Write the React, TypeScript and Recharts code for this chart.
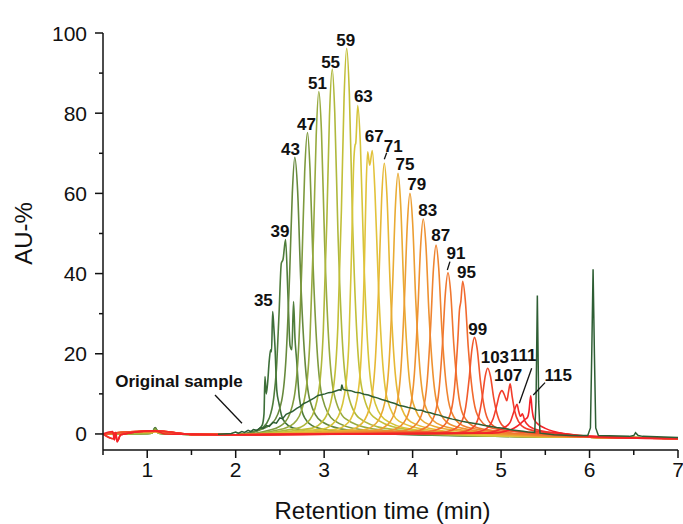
import React from 'react'
import { LineChart, Line, XAxis, YAxis, ReferenceLine, ReferenceDot } from 'recharts'

type Pt = [number, number]

// chromatograms of the collected fractions, [time (min), AU-%]
const p35: Pt[] = [[0.5,0],[1.05,0.2],[1.09,1.6],[1.13,0.2],[1.5,-0.1],[2.0,-0.2],[2.15,0.3],[2.25,1],[2.3,2.2],[2.32,5],[2.331,14.3],[2.345,10],[2.36,12.5],[2.38,18.4],[2.395,21],[2.405,20.5],[2.418,30.5],[2.43,27],[2.444,21.8],[2.464,11],[2.49,7.5],[2.52,4.5],[2.56,2.8],[2.65,1.5],[2.9,0.7],[3.5,0.1],[6,-0.8],[7,-1.1]]
const p39: Pt[] = [[0.5,0],[1.05,0.2],[1.09,1.5],[1.13,0.2],[1.5,-0.1],[2.0,-0.2],[2.2,0.5],[2.3,1.5],[2.38,4],[2.43,9],[2.46,16],[2.49,30],[2.516,42.6],[2.535,43.5],[2.564,48.5],[2.59,35],[2.615,22],[2.635,21],[2.654,33],[2.67,24],[2.689,18.4],[2.72,9],[2.78,4],[2.9,1.7],[3.2,0.6],[4.0,-0.2],[6,-0.8],[7,-1.1]]
const p43: Pt[] = [[0.5,0],[1.05,0.2],[1.09,1.4],[1.13,0.2],[1.5,-0.1],[2.0,-0.2],[2.27,1.0],[2.42,2.8],[2.52,8.3],[2.57,19.3],[2.61,40],[2.64,60],[2.668,69],[2.7,60.7],[2.735,38.6],[2.78,19.3],[2.84,8.3],[2.97,3.1],[3.27,1.0],[4.5,-0.4],[6,-0.8],[7,-1.1]]
const p47: Pt[] = [[0.5,0],[1.05,0.2],[1.09,1.2],[1.13,0.2],[1.5,-0.1],[2.0,-0.2],[2.41,1.1],[2.56,3.0],[2.66,9.0],[2.71,21],[2.75,43.6],[2.78,65.4],[2.812,75.2],[2.84,66.2],[2.875,42.1],[2.92,21],[2.98,9.0],[3.11,3.4],[3.41,1.1],[4.5,-0.4],[6,-0.8],[7,-1.1]]
const p51: Pt[] = [[0.5,0],[1.05,0.2],[1.09,1.0],[1.13,0.2],[1.5,-0.1],[2.0,-0.2],[2.54,1.3],[2.69,3.4],[2.79,10.2],[2.84,23.9],[2.88,49.5],[2.91,74.3],[2.94,85.4],[2.97,75.2],[3.005,47.8],[3.05,23.9],[3.11,10.2],[3.24,3.8],[3.54,1.3],[4.6,-0.4],[6,-0.8],[7,-1.1]]
const p55: Pt[] = [[0.5,0],[1.05,0.2],[1.09,0.9],[1.13,0.2],[1.5,-0.1],[2.0,-0.2],[2.69,1.4],[2.84,3.6],[2.94,10.9],[2.99,25.5],[3.03,52.8],[3.06,79.2],[3.092,91],[3.12,80.1],[3.155,51],[3.2,25.5],[3.26,10.9],[3.39,4.1],[3.69,1.4],[4.7,-0.4],[6,-0.8],[7,-1.1]]
const p59: Pt[] = [[0.5,0],[1.09,0.7],[1.5,-0.1],[2.0,-0.2],[2.855,1.4],[3.005,3.8],[3.105,11.5],[3.155,26.9],[3.195,55.8],[3.225,83.7],[3.255,96.2],[3.285,84.7],[3.32,53.9],[3.365,26.9],[3.425,11.5],[3.555,4.3],[3.855,1.4],[4.8,-0.4],[6,-0.8],[7,-1.1]]
const p63: Pt[] = [[0.5,0],[1.09,0.6],[1.5,-0.1],[2.0,-0.2],[2.98,1.2],[3.13,3.3],[3.23,9.8],[3.28,23],[3.31,46],[3.335,68],[3.349,72],[3.357,72.5],[3.38,81.9],[3.41,72],[3.445,46],[3.49,23],[3.55,9.8],[3.68,3.7],[3.98,1.2],[4.9,-0.4],[6,-0.8],[7,-1.1]]
const p67: Pt[] = [[0.5,0],[1.09,0.6],[1.5,-0.1],[2.0,-0.2],[3.12,1.1],[3.27,2.8],[3.37,8.5],[3.42,20],[3.455,42],[3.475,62],[3.492,70.4],[3.515,67],[3.544,70.7],[3.575,60],[3.61,39],[3.655,19.8],[3.715,8.5],[3.845,3.2],[4.145,1.1],[5.0,-0.4],[6,-0.8],[7,-1.1]]
const p71: Pt[] = [[0.5,0],[1.09,0.6],[1.5,-0.1],[2.0,-0.2],[3.28,1.0],[3.43,2.7],[3.53,8.1],[3.58,18.9],[3.62,39.2],[3.65,58.7],[3.68,67.5],[3.71,59.4],[3.745,37.8],[3.79,18.9],[3.85,8.1],[3.98,3.0],[4.28,1.0],[5.1,-0.4],[6,-0.8],[7,-1.1]]
const p75: Pt[] = [[0.5,0],[1.09,0.6],[1.5,-0.1],[2.0,-0.2],[3.435,1.0],[3.585,2.6],[3.685,7.8],[3.735,18.2],[3.775,37.7],[3.805,56.6],[3.835,65],[3.865,57.2],[3.9,36.4],[3.945,18.2],[4.005,7.8],[4.135,2.9],[4.435,1.0],[5.2,-0.4],[6,-0.8],[7,-1.1]]
const p79: Pt[] = [[0.5,0],[1.09,0.6],[1.5,-0.1],[2.0,-0.2],[3.57,0.9],[3.72,2.4],[3.82,7.2],[3.87,16.8],[3.91,34.8],[3.94,52.2],[3.97,60],[4.0,52.8],[4.035,33.6],[4.08,16.8],[4.14,7.2],[4.27,2.7],[4.57,0.9],[5.3,-0.4],[6,-0.8],[7,-1.1]]
const p83: Pt[] = [[0.5,0],[1.09,0.6],[1.5,-0.1],[2.0,-0.2],[3.72,0.8],[3.87,2.1],[3.97,6.4],[4.02,15],[4.06,31.1],[4.09,46.6],[4.12,53.6],[4.15,47.2],[4.185,30],[4.23,15],[4.29,6.4],[4.42,2.4],[4.72,0.8],[5.4,-0.4],[6,-0.8],[7,-1.1]]
const p87: Pt[] = [[0.5,0],[1.09,0.6],[1.5,-0.1],[2.0,-0.2],[3.865,0.7],[4.015,1.9],[4.115,5.7],[4.165,13.2],[4.205,27.3],[4.235,41],[4.265,47.1],[4.295,41.4],[4.33,26.4],[4.375,13.2],[4.435,5.7],[4.565,2.1],[4.865,0.7],[5.5,-0.4],[6,-0.8],[7,-1.1]]
const p91: Pt[] = [[0.5,0],[1.09,0.7],[1.5,-0.1],[2.0,-0.2],[4.0,0.6],[4.15,1.6],[4.25,4.8],[4.3,11.3],[4.34,23.3],[4.37,35],[4.4,40.2],[4.43,35.4],[4.465,22.5],[4.51,11.3],[4.57,4.8],[4.7,1.8],[5.0,0.6],[5.6,-0.4],[6,-0.8],[7,-1.1]]
const p95: Pt[] = [[0.5,0],[1.09,0.7],[1.5,-0.1],[2.0,-0.2],[4.17,0.6],[4.32,1.5],[4.42,4.6],[4.47,10.7],[4.51,23],[4.53,31],[4.545,33],[4.566,38.1],[4.595,33.5],[4.63,21.3],[4.675,10.7],[4.735,4.6],[4.865,1.7],[5.165,0.6],[5.7,-0.4],[6,-0.8],[7,-1.1]]
const p99: Pt[] = [[0.5,0],[1.09,0.8],[1.5,-0.1],[2.0,-0.2],[4.3,0.4],[4.45,1.0],[4.55,2.9],[4.6,6.7],[4.64,14],[4.67,21],[4.7,24.1],[4.73,21.2],[4.765,13.5],[4.81,6.7],[4.87,2.9],[5.0,1.1],[5.3,0.4],[5.8,-0.5],[7,-1.1]]
const p103: Pt[] = [[0.5,0],[1.09,0.8],[1.5,-0.1],[2.0,-0.2],[4.45,0.25],[4.6,0.7],[4.7,2],[4.75,4.6],[4.79,9.5],[4.82,14.3],[4.848,16.4],[4.88,14.4],[4.915,9.2],[4.96,4.6],[5.02,2],[5.15,0.7],[5.45,0.25],[5.9,-0.6],[7,-1.1]]
const p107: Pt[] = [[0.5,0],[0.62,-1.2],[0.64,0.3],[0.66,-1.8],[0.7,-0.2],[1.09,0.8],[1.5,-0.1],[2.0,-0.2],[4.6,0.2],[4.76,0.6],[4.86,1.8],[4.91,3.8],[4.95,7],[4.98,9.7],[5.01,10.8],[5.04,9.6],[5.065,8.3],[5.085,10.6],[5.103,12.5],[5.125,9.4],[5.155,5.6],[5.2,3],[5.26,1.6],[5.4,0.7],[5.7,0.1],[6,-0.6],[7,-1.1]]
const p111: Pt[] = [[0.5,0],[0.62,-1.2],[0.64,0.3],[0.66,-1.8],[0.7,-0.2],[1.09,0.8],[1.5,-0.1],[2.0,-0.2],[4.8,0.2],[4.95,0.8],[5.05,1.8],[5.1,2.8],[5.13,4.6],[5.16,6.5],[5.18,7.4],[5.2,5.6],[5.22,4.4],[5.24,5],[5.27,3.2],[5.32,1.9],[5.45,0.8],[5.7,0.1],[6,-0.6],[7,-1.1]]
const p115: Pt[] = [[0.5,0],[0.61,0.6],[0.63,-1.5],[0.645,0.4],[0.66,-2],[0.7,-0.2],[1.09,0.8],[1.2,0],[1.5,-0.1],[2.0,-0.2],[4.9,0.2],[5.05,0.7],[5.15,1.5],[5.22,2.6],[5.27,3.6],[5.3,4.2],[5.315,5.6],[5.335,9.5],[5.35,6.2],[5.37,3.8],[5.42,2.4],[5.5,1.4],[5.6,0.6],[5.8,-0.3],[6.2,-0.8],[7,-1.2]]

// unfractionated sample
const original: Pt[] = [[1.8,-0.1],[1.95,0.1],[2.0,0.5],[2.03,0.2],[2.07,0.6],[2.1,0.4],[2.14,0.9],[2.17,0.6],[2.2,1.1],[2.24,0.9],[2.28,1.6],[2.31,1.4],[2.35,2.1],[2.38,1.9],[2.42,2.9],[2.46,2.7],[2.5,4.0],[2.53,3.8],[2.57,4.9],[2.6,5.2],[2.64,5.6],[2.69,6.4],[2.73,6.9],[2.77,7.6],[2.81,8.0],[2.85,8.5],[2.89,9.0],[2.93,9.6],[2.97,9.8],[3.01,10.0],[3.05,10.3],[3.09,10.4],[3.13,10.7],[3.17,11.0],[3.19,10.9],[3.2,12.3],[3.215,11.1],[3.25,10.9],[3.3,10.8],[3.35,10.4],[3.4,10.3],[3.45,9.9],[3.5,9.7],[3.55,9.3],[3.6,9.0],[3.65,8.6],[3.7,8.3],[3.75,7.9],[3.8,7.6],[3.85,7.1],[3.9,6.9],[3.95,6.6],[4.0,6.4],[4.05,6.0],[4.1,5.9],[4.15,5.5],[4.2,5.3],[4.25,4.9],[4.3,4.7],[4.35,4.3],[4.4,4.0],[4.45,3.7],[4.5,3.5],[4.55,3.2],[4.6,3.0],[4.65,2.8],[4.7,2.6],[4.75,2.4],[4.8,2.2],[4.85,2.0],[4.9,1.8],[4.95,1.6],[5.0,1.5],[5.05,1.3],[5.1,1.1],[5.15,0.95],[5.2,0.8],[5.25,0.65],[5.3,0.5],[5.38,0.4],[5.395,8],[5.41,34.5],[5.425,8],[5.44,0.2],[5.6,-0.2],[5.8,-0.4],[5.98,-0.4],[6.01,1.5],[6.025,20],[6.04,41.1],[6.055,20],[6.07,1.5],[6.1,-0.4],[6.45,-0.6],[6.5,-0.4],[6.52,0.3],[6.55,-0.4],[6.6,-0.6],[7,-0.9]]

const fractions = ['35','39','43','47','51','55','59','63','67','71','75','79','83','87','91','95','99','103','107','111','115']
const traces = [p35,p39,p43,p47,p51,p55,p59,p63,p67,p71,p75,p79,p83,p87,p91,p95,p99,p103,p107,p111,p115]
const colors = ['#3d6f39','#4f7d3b','#67893d','#7e9a3e','#97aa3f','#afb83c','#c2bf38','#d6c53a','#e2c23a','#e6b835','#e9ab33','#ec9e32','#ee9131','#ef8430','#f0772f','#f1692e','#f15a2d','#f24b2c','#f23c2b','#f32e2a','#f42228']

// where each fraction number sits (data units)
const labelT = [2.313,2.501,2.62,2.80,2.925,3.073,3.245,3.443,3.566,3.781,3.914,4.046,4.17,4.317,4.49,4.61,4.736,4.93,5.08,5.25,5.647]
const labelV = [33.4,50.7,71.2,77.3,87.5,92.8,98.3,84.4,74.3,71.8,67.3,62.3,56.0,49.6,45.05,40.5,26.2,19.3,14.7,19.7,14.7]

const leaders: [Pt, Pt][] = [
  [[1.766,9.72],[2.071,2.66]],
  [[3.68,68.5],[3.707,70.15]],
  [[4.392,40.9],[4.422,42.97]],
  [[5.346,16.4],[5.206,7.65]],
  [[5.497,12.8],[5.364,9.7]],
]

const xTicks = [0.5,1,1.5,2,2.5,3,3.5,4,4.5,5,5.5,6,6.5,7]
const yTicks = [0,10,20,30,40,50,60,70,80,90,100]

const FONT = '"Liberation Sans", Arial, sans-serif'
const INK = '#111'

const toRows = (a: Pt[]) => a.map(([t, y]) => ({ t, y }))

function XTick({ x, y, payload }: any) {
  const major = Number.isInteger(payload.value)
  return (
    <g>
      <line x1={x} x2={x} y1={y} y2={y + (major ? 8 : 5)} stroke={INK} strokeWidth={1.5} />
      {major && (
        <text x={x} y={y + 27} textAnchor="middle" fontSize={21} fill={INK} fontFamily={FONT}>
          {payload.value}
        </text>
      )}
    </g>
  )
}

function YTick({ x, y, payload }: any) {
  const major = payload.value % 20 === 0
  return (
    <g>
      <line x1={x - (major ? 8 : 4)} x2={x} y1={y} y2={y} stroke={INK} strokeWidth={1.5} />
      {major && (
        <text x={x - 16} y={y + 7.5} textAnchor="end" fontSize={21} fill={INK} fontFamily={FONT}>
          {payload.value}
        </text>
      )}
    </g>
  )
}

const textAt = (s: string, size: number) => (p: any) => (
  <text x={p.cx} y={p.cy} dy="0.36em" textAnchor="middle" fontSize={size} fontWeight="bold" fill={INK} fontFamily={FONT}>
    {s}
  </text>
)

export default function App() {
  return (
    <div style={{ position: 'absolute', left: 0, top: 0, background: '#fff' }}>
      <LineChart width={683} height={524} margin={{ top: 33, right: 5, left: 0, bottom: 0 }}>
        <XAxis
          type="number"
          dataKey="t"
          domain={[0.5, 7]}
          ticks={xTicks}
          interval={0}
          allowDataOverflow
          height={74}
          tickSize={0}
          tickMargin={0}
          tick={<XTick />}
          axisLine={{ stroke: INK, strokeWidth: 1.5 }}
          tickLine={false}
          label={{ value: 'Retention time (min)', position: 'insideBottom', offset: 5, dx: -8, style: { fontSize: 24, fill: INK, fontFamily: FONT } }}
        />
        <YAxis
          type="number"
          dataKey="y"
          domain={[-4, 100]}
          ticks={yTicks}
          interval={0}
          allowDataOverflow
          width={103}
          tickSize={0}
          tickMargin={0}
          tick={<YTick />}
          axisLine={{ stroke: INK, strokeWidth: 1.5 }}
          tickLine={false}
          label={{
            content: ({ viewBox }: any) => (
              <text
                x={viewBox.x + 23}
                y={viewBox.y + viewBox.height / 2 - 8}
                transform={`rotate(-90, ${viewBox.x + 23}, ${viewBox.y + viewBox.height / 2 - 8})`}
                textAnchor="middle"
                dominantBaseline="central"
                fontSize={24}
                fill={INK}
                fontFamily={FONT}
              >
                AU-%
              </text>
            ),
          }}
        />
        {traces.map((tr, i) => (
          <Line
            key={fractions[i]}
            data={toRows(tr)}
            dataKey="y"
            type="monotone"
            dot={false}
            stroke={colors[i]}
            strokeWidth={1.6}
            isAnimationActive={false}
          />
        ))}
        <Line
          data={toRows(original)}
          dataKey="y"
          type="linear"
          dot={false}
          stroke="#2e5e34"
          strokeWidth={1.5}
          isAnimationActive={false}
        />
        {leaders.map((seg, i) => (
          <ReferenceLine
            key={'l' + i}
            segment={[{ x: seg[0][0], y: seg[0][1] }, { x: seg[1][0], y: seg[1][1] }]}
            stroke={INK}
            strokeWidth={1.3}
            ifOverflow="visible"
          />
        ))}
        {fractions.map((f, i) => (
          <ReferenceDot key={'d' + f} x={labelT[i]} y={labelV[i]} r={0} ifOverflow="visible" shape={textAt(f, 17)} />
        ))}
        <ReferenceDot x={1.359} y={13.33} r={0} ifOverflow="visible" shape={textAt('Original sample', 17)} />
      </LineChart>
    </div>
  )
}
